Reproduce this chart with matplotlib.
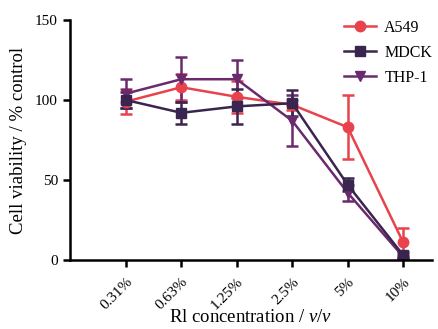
import matplotlib
matplotlib.use("Agg")
import matplotlib.pyplot as plt
from matplotlib.lines import Line2D
import numpy as np

# concentrations (categorical x axis)
conc = ["0.31%", "0.63%", "1.25%", "2.5%", "5%", "10%"]

a549 = [99, 108, 102, 97, 83, 11]
a549_err = [8, 8, 10, 3, 20, 9]
mdck = [100, 92, 96, 98, 47, 3]
mdck_err = [5, 7, 11, 8, 4, 2]
thp1 = [104, 113, 113, 87, 42, 2]
thp1_err = [9, 14, 12, 16, 5, 1]

plt.rcParams["font.family"] = ["Liberation Serif", "DejaVu Serif"]
plt.rcParams["mathtext.fontset"] = "custom"
plt.rcParams["mathtext.rm"] = "Liberation Serif"
plt.rcParams["mathtext.it"] = "Liberation Serif:italic"

fig = plt.figure(figsize=(4.39, 3.29), dpi=100)
ax = fig.add_axes([0.159, 0.21, 0.825, 0.729])

x = np.arange(len(conc))
series = [
    ("A549", a549, a549_err, "#e8434c", "o"),
    ("THP-1", thp1, thp1_err, "#6c2a6e", "v"),
    ("MDCK", mdck, mdck_err, "#3a2550", "s"),
]
handles = {}
for name, y, err, col, mk in series:
    ax.errorbar(x, y, yerr=err, color=col, marker=mk, markersize=7.5,
                linewidth=1.8, elinewidth=1.8, capsize=4, capthick=1.8)
    handles[name] = Line2D([], [], color=col, marker=mk, markersize=7.5,
                           linewidth=1.8)

order = ["A549", "MDCK", "THP-1"]
ax.legend([handles[n] for n in order], order, loc="upper right",
          bbox_to_anchor=(1.04, 1.06), frameon=False, fontsize=11.5,
          handlelength=2.0, handletextpad=0.5, labelspacing=0.55)

ax.set_xlim(-1.01, 5.52)
ax.set_ylim(0, 150)
ax.set_yticks([0, 50, 100, 150])
ax.set_xticks(x)
ax.set_xticklabels(conc, rotation=45, ha="right", rotation_mode="anchor")
ax.spines["top"].set_visible(False)
ax.spines["right"].set_visible(False)
ax.spines["left"].set_linewidth(1.8)
ax.spines["bottom"].set_linewidth(1.8)
ax.tick_params(width=1.8, length=5, labelsize=11)
ax.tick_params(axis="x", pad=6)

ax.set_ylabel("Cell viability / % control", fontsize=13.5, labelpad=6)
ax.set_xlabel("Rl concentration / $\\it{v/v}$", fontsize=13.5)
ax.xaxis.set_label_coords(0.5, -0.205)

fig.savefig("out.png", dpi=100)
